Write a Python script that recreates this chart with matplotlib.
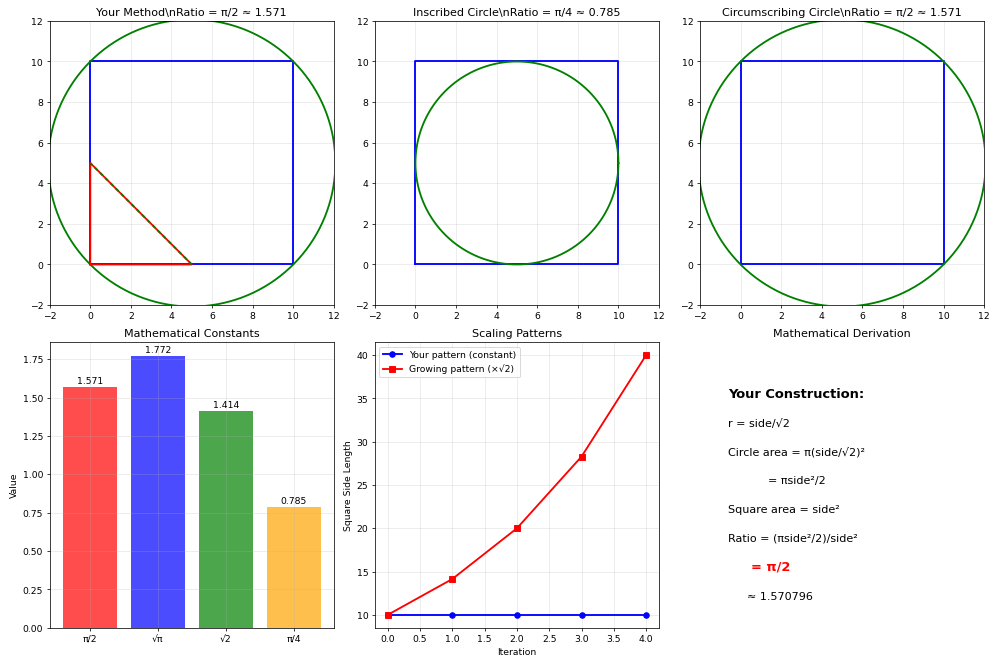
import numpy as np
import matplotlib
matplotlib.use("Agg")
import matplotlib.pyplot as plt

side = 10
center = (5, 5)
r_circ = side / np.sqrt(2)
r_insc = side / 2

const_labels = ['π/2', '√π', '√2', 'π/4']
const_values = [1.571, 1.772, 1.414, 0.785]
const_colors = ['red', 'blue', 'green', 'orange']

iterations = [0, 1, 2, 3, 4]
constant_side = [10, 10, 10, 10, 10]
growing_side = [10, 14.14, 20, 28.28, 40]

fig, axes = plt.subplots(2, 3, figsize=(15, 10), dpi=66.67)


def draw_square(ax):
    xs = [0, side, side, 0, 0]
    ys = [0, 0, side, side, 0]
    ax.plot(xs, ys, 'b-', linewidth=2)


def draw_circle(ax, r):
    t = np.linspace(0, 2 * np.pi, 720)
    ax.plot(center[0] + r * np.cos(t), center[1] + r * np.sin(t), 'g-', linewidth=2)


def setup_geom(ax, title):
    ax.set_xlim(-2, 12)
    ax.set_ylim(-2, 12)
    ax.set_aspect('equal')
    ax.grid(True, alpha=0.3)
    ax.set_title(title)


# Your method
ax = axes[0, 0]
draw_square(ax)
draw_circle(ax, r_circ)
ax.plot([0, 5, 0, 0], [0, 0, 5, 0], 'r-', linewidth=2)
ax.plot([5, 0], [0, 5], 'g--', linewidth=2, dashes=(2, 2))
setup_geom(ax, "Your Method\\nRatio = π/2 ≈ 1.571")

# Inscribed circle
ax = axes[0, 1]
draw_square(ax)
draw_circle(ax, r_insc)
setup_geom(ax, "Inscribed Circle\\nRatio = π/4 ≈ 0.785")

# Circumscribing circle
ax = axes[0, 2]
draw_square(ax)
draw_circle(ax, r_circ)
setup_geom(ax, "Circumscribing Circle\\nRatio = π/2 ≈ 1.571")

# Constants
ax = axes[1, 0]
bars = ax.bar(const_labels, const_values, color=const_colors, alpha=0.7)
for b, v in zip(bars, const_values):
    ax.text(b.get_x() + b.get_width() / 2, b.get_height() + 0.01, f'{v:.3f}',
            ha='center', va='bottom')
ax.set_ylabel('Value')
ax.set_title('Mathematical Constants')
ax.grid(True, alpha=0.3)

# Scaling
ax = axes[1, 1]
ax.plot(iterations, constant_side, 'bo-', linewidth=2, label='Your pattern (constant)')
ax.plot(iterations, growing_side, 'rs-', linewidth=2, label='Growing pattern (×√2)')
ax.set_xlabel('Iteration')
ax.set_ylabel('Square Side Length')
ax.set_title('Scaling Patterns')
ax.legend()
ax.grid(True, alpha=0.3)

# Derivation text
ax = axes[1, 2]
ax.axis('off')
ax.set_title('Mathematical Derivation')
ax.text(0.1, 0.82, 'Your Construction:', fontsize=14, fontweight='bold', transform=ax.transAxes, va='center')
ax.text(0.1, 0.716, 'r = side/√2', fontsize=12, transform=ax.transAxes, va='center')
ax.text(0.1, 0.617, 'Circle area = π(side/√2)²', fontsize=12, transform=ax.transAxes, va='center')
ax.text(0.24, 0.516, '= πside²/2', fontsize=12, transform=ax.transAxes, va='center')
ax.text(0.1, 0.414, 'Square area = side²', fontsize=12, transform=ax.transAxes, va='center')
ax.text(0.1, 0.316, 'Ratio = (πside²/2)/side²', fontsize=12, transform=ax.transAxes, va='center')
ax.text(0.18, 0.214, '= π/2', fontsize=14, fontweight='bold', color='red', transform=ax.transAxes, va='center')
ax.text(0.165, 0.112, '≈ 1.570796', fontsize=12, transform=ax.transAxes, va='center')

plt.tight_layout()
plt.savefig('out.png', dpi=66.67)
